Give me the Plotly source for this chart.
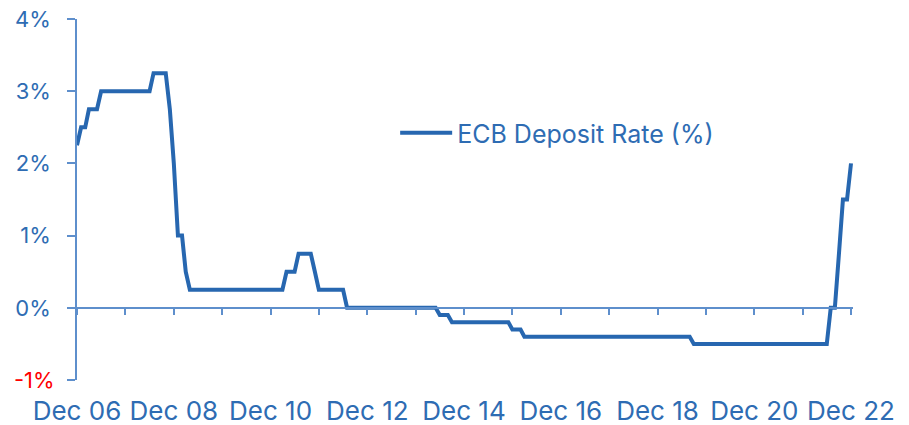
import pandas as pd
import plotly.graph_objects as go

# ECB deposit rate (%), month-end readings, Dec 2006 .. Dec 2022
rate_2006 = [2.25]
rate_2007 = [2.5, 2.5, 2.75, 2.75, 2.75, 3.0, 3.0, 3.0, 3.0, 3.0, 3.0, 3.0]
rate_2008 = [3.0, 3.0, 3.0, 3.0, 3.0, 3.0, 3.25, 3.25, 3.25, 3.25, 2.75, 2.0]
rate_2009 = [1.0, 1.0, 0.5, 0.25, 0.25, 0.25, 0.25, 0.25, 0.25, 0.25, 0.25, 0.25]
rate_2010 = [0.25, 0.25, 0.25, 0.25, 0.25, 0.25, 0.25, 0.25, 0.25, 0.25, 0.25, 0.25]
rate_2011 = [0.25, 0.25, 0.25, 0.5, 0.5, 0.5, 0.75, 0.75, 0.75, 0.75, 0.5, 0.25]
rate_2012 = [0.25, 0.25, 0.25, 0.25, 0.25, 0.25, 0.0, 0.0, 0.0, 0.0, 0.0, 0.0]
rate_2013 = [0.0, 0.0, 0.0, 0.0, 0.0, 0.0, 0.0, 0.0, 0.0, 0.0, 0.0, 0.0]
rate_2014 = [0.0, 0.0, 0.0, 0.0, 0.0, -0.1, -0.1, -0.1, -0.2, -0.2, -0.2, -0.2]
rate_2015 = [-0.2, -0.2, -0.2, -0.2, -0.2, -0.2, -0.2, -0.2, -0.2, -0.2, -0.2, -0.3]
rate_2016 = [-0.3, -0.3, -0.4, -0.4, -0.4, -0.4, -0.4, -0.4, -0.4, -0.4, -0.4, -0.4]
rate_2017 = [-0.4, -0.4, -0.4, -0.4, -0.4, -0.4, -0.4, -0.4, -0.4, -0.4, -0.4, -0.4]
rate_2018 = [-0.4, -0.4, -0.4, -0.4, -0.4, -0.4, -0.4, -0.4, -0.4, -0.4, -0.4, -0.4]
rate_2019 = [-0.4, -0.4, -0.4, -0.4, -0.4, -0.4, -0.4, -0.4, -0.5, -0.5, -0.5, -0.5]
rate_2020 = [-0.5, -0.5, -0.5, -0.5, -0.5, -0.5, -0.5, -0.5, -0.5, -0.5, -0.5, -0.5]
rate_2021 = [-0.5, -0.5, -0.5, -0.5, -0.5, -0.5, -0.5, -0.5, -0.5, -0.5, -0.5, -0.5]
rate_2022 = [-0.5, -0.5, -0.5, -0.5, -0.5, -0.5, 0.0, 0.0, 0.75, 1.5, 1.5, 2.0]

x_tick_years = [2006, 2008, 2010, 2012, 2014, 2016, 2018, 2020, 2022]
x_tick_labels = ["Dec 06", "Dec 08", "Dec 10", "Dec 12", "Dec 14",
                 "Dec 16", "Dec 18", "Dec 20", "Dec 22"]
y_tick_values = [-1, 0, 1, 2, 3, 4]
y_tick_labels = ["", "0%", "1%", "2%", "3%", "4%"]
y_min_label = "-1%"   # drawn in red, slightly offset as in the original
series_name = "ECB Deposit Rate (%)"

rates = (rate_2006 + rate_2007 + rate_2008 + rate_2009 + rate_2010 + rate_2011
         + rate_2012 + rate_2013 + rate_2014 + rate_2015 + rate_2016 + rate_2017
         + rate_2018 + rate_2019 + rate_2020 + rate_2021 + rate_2022)
dates = pd.date_range("2006-12-01", periods=len(rates), freq="MS")

LINE = "#2767B0"
AXIS = "#5E8FCC"
TEXT = "#2E6CB3"
FONT = "Inter"

fig = go.Figure()
fig.add_trace(go.Scatter(
    x=dates, y=rates, mode="lines", name=series_name,
    line=dict(color=LINE, width=4), showlegend=True,
))

tickvals = [pd.Timestamp(f"{y}-12-01") for y in x_tick_years]

fig.add_annotation(
    text=y_min_label, xref="paper", x=0, yref="y", y=y_tick_values[0],
    xanchor="right", yanchor="middle", xshift=-20, showarrow=False,
    font=dict(size=22, color="#FF0000", family=FONT),
)

fig.update_layout(
    width=901, height=417,
    margin=dict(l=69, r=56, t=11, b=45, autoexpand=False),
    paper_bgcolor="white", plot_bgcolor="white",
    font=dict(family=FONT, color=TEXT),
    showlegend=True,
    legend=dict(x=0.41, y=0.684, xanchor="left", yanchor="middle",
                font=dict(size=25, color=TEXT, family=FONT),
                itemwidth=52,
                bgcolor="rgba(0,0,0,0)"),
    xaxis=dict(
        range=[pd.Timestamp("2006-12-01"), pd.Timestamp("2022-12-16")],
        anchor="free", position=0.2,
        showline=True, linecolor=AXIS, linewidth=1.5,
        showgrid=False, zeroline=False,
        tickmode="array", tickvals=tickvals, ticktext=x_tick_labels,
        ticks="outside", ticklen=6, tickcolor=AXIS, tickwidth=1.5,
        ticklabelstandoff=74, ticklabeloverflow="allow",
        tickfont=dict(size=26, color=TEXT, family=FONT),
        minor=dict(dtick="M12", tick0="2006-12-01", ticks="outside",
                   ticklen=6, tickcolor=AXIS, tickwidth=1.5, showgrid=False),
        automargin=False,
    ),
    yaxis=dict(
        range=[-1, 4],
        showline=True, linecolor=AXIS, linewidth=1.5,
        showgrid=False, zeroline=False,
        tickmode="array", tickvals=y_tick_values, ticktext=y_tick_labels,
        ticks="outside", ticklen=8, tickcolor=AXIS, tickwidth=1.5,
        ticklabelstandoff=12, ticklabeloverflow="allow",
        tickfont=dict(size=22, color=TEXT, family=FONT),
        automargin=False,
    ),
)

fig.write_html("out.html")
